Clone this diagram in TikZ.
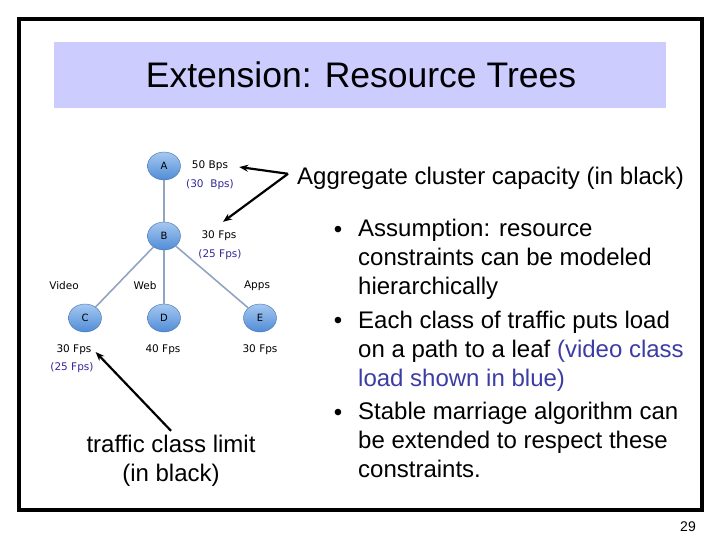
\documentclass[tikz,border=0pt]{standalone}
\usepackage{fontspec}
\setmainfont{Liberation Sans}
\newfontfamily\treefont{DejaVu Sans}
\usepackage{xcolor}
\usetikzlibrary{shapes.geometric, arrows.meta, positioning, calc}
\definecolor{bandcolor}{RGB}{204, 204, 255}
\definecolor{nodetop}{RGB}{165, 200, 240}
\definecolor{nodebottom}{RGB}{80, 140, 215}
\definecolor{edgecolor}{RGB}{145, 165, 195}
\definecolor{loadblue}{RGB}{50, 40, 150}
\definecolor{textblue}{RGB}{60, 60, 165}

\begin{document}
\begin{tikzpicture}[
    x=1pt, y=-1pt,
    vertex/.style={ellipse, draw=nodebottom!80!black, line width=0.4pt, top color=nodetop, bottom color=nodebottom, minimum width=33pt, minimum height=28pt, inner sep=0pt, font=\treefont\fontsize{10}{12}\selectfont},
    capacity/.style={font=\treefont\fontsize{10.5}{12}\selectfont, inner sep=0pt},
    load/.style={capacity, text=loadblue},
    body/.style={font=\fontsize{24}{28.6}\selectfont, inner sep=0pt, align=left},
    link/.style={edgecolor, line width=1.6pt},
    arrow/.style={-{Stealth[length=9pt, width=7pt]}, line width=2.2pt, black}
]
    \useasboundingbox (0,0) rectangle (720,540);

    % slide frame and title
    \draw[line width=4pt] (19,19) rectangle (702,510);
    \fill[bandcolor] (54,42) rectangle (666,108);
    \node[font=\fontsize{35.5}{40}\selectfont, inner sep=0pt] (title) at (361,75) {Extension: Resource Trees};

    % Nodes - tree
    \node[vertex] (A) at (164,166) {A};
    \node[vertex] (B) at (164,236) {B};
    \node[vertex] (C) at (85,318) {C};
    \node[vertex] (D) at (164,318) {D};
    \node[vertex] (E) at (260,318) {E};

    % Edges
    \draw[link] (A) -- (B);
    \draw[link] (B) -- (C);
    \draw[link] (B) -- (D);
    \draw[link] (B) -- (E);

    % Capacities
    \node[capacity] (capA) at (210,166) {50 Bps};
    \node[load] (useA) at (210,185) {(30\ \ Bps)};
    \node[capacity] (capB) at (219,236) {30 Fps};
    \node[load] (useB) at (220,255) {(25 Fps)};
    \node[capacity] (video) at (64,286) {Video};
    \node[capacity] (web) at (145,286) {Web};
    \node[capacity] (apps) at (257,286) {Apps};
    \node[capacity] (capC) at (74,350) {30 Fps};
    \node[capacity] (capD) at (163,350) {40 Fps};
    \node[capacity] (capE) at (260,350) {30 Fps};
    \node[load] (useC) at (72,368) {(25 Fps)};

    % Text on the right (base = last line)
    \node[body, anchor=base west] (aggregate) at (297,185) {Aggregate cluster capacity (in black)};
    \node[body, anchor=base west] (first) at (358,294) {Assumption: resource\\constraints can be modeled\\hierarchically};
    \node[body, anchor=base west] (second) at (358,386) {Each class of traffic puts load\\on a path to a leaf \textcolor{textblue}{(video class}\\\textcolor{textblue}{load shown in blue)}};
    \node[body, anchor=base west] (third) at (358,477) {Stable marriage algorithm can\\be extended to respect these\\constraints.};
    \foreach \bul/\y in {first/237, second/328, third/420}
        \node[body, anchor=base] (dot-\bul) at (338,\y) {\textbullet};

    \node[body, align=center, anchor=base] (limit) at (171,481) {traffic class limit\\(in black)};
    \node[font=\fontsize{14}{16}\selectfont, inner sep=0pt] (page) at (688,527) {29};

    % Arrows
    \draw[arrow] ([xshift=-9pt, yshift=5pt]aggregate.west) -- ([xshift=11pt, yshift=-1pt]capA.east);
    \draw[arrow] ([xshift=-9pt, yshift=5pt]aggregate.west) -- ([xshift=4pt, yshift=9pt]capB.north);
    \draw[arrow] ([yshift=4pt]limit.north) -- ([xshift=4pt, yshift=-2pt]capC.east);
\end{tikzpicture}
\end{document}
